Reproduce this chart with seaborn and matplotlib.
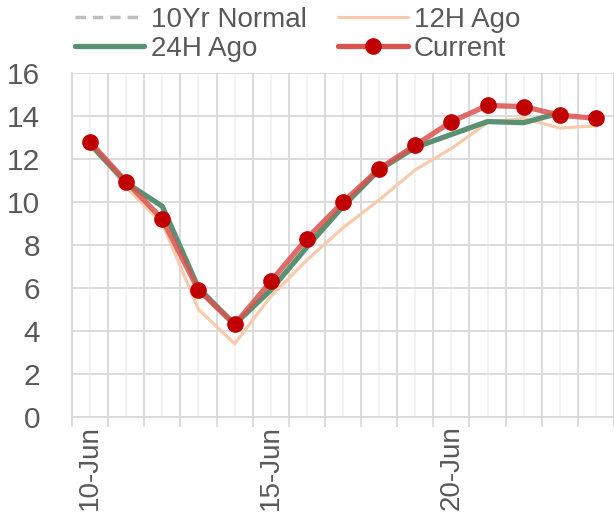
import numpy as np
import pandas as pd
import seaborn as sns
import matplotlib.pyplot as plt
import matplotlib.dates as mdates
from matplotlib.lines import Line2D

# %% data
dates = pd.date_range('2023-06-10', '2023-06-24', freq='D')
normal_10yr = [np.nan] * 15
ago_12h = [12.8, 10.7, 9.0, 5.0, 3.4, 5.6, 7.3, 8.8, 10.1, 11.5, 12.5, 13.7, 13.9, 13.45, 13.55]
ago_24h = [12.7, 10.9, 9.8, 6.0, 4.3, 5.9, 7.9, 9.8, 11.5, 12.55, 13.15, 13.75, 13.7, 14.15, np.nan]
current = [12.8, 10.95, 9.2, 5.9, 4.3, 6.3, 8.3, 10.0, 11.55, 12.65, 13.75, 14.5, 14.45, 14.05, 13.9]

df = pd.DataFrame({'date': dates, '10Yr': normal_10yr, '12H': ago_12h,
                   '24H': ago_24h, 'Current': current})

# %% style
sns.set_style('white')
plt.rcParams['font.family'] = ['Liberation Sans', 'DejaVu Sans']
txt = '#595959'

fig = plt.figure(figsize=(6.14, 5.17), dpi=100)
ax = fig.add_axes([72 / 614, 1 - 416.7 / 517, (614 - 72) / 614, (416.7 - 73.3) / 517])

c_grey = '#bfbfbf'
c_orange = '#f8cbad'
c_green = '#5b9173'
c_red = '#d9534f'
c_mark = '#c00000'

sns.lineplot(data=df, x='date', y='10Yr', ax=ax, color=c_grey, lw=2.5, dashes=(3, 2), legend=False)
sns.lineplot(data=df, x='date', y='12H', ax=ax, color=c_orange, lw=2.3, legend=False)
sns.lineplot(data=df, x='date', y='24H', ax=ax, color=c_green, lw=3.8, legend=False)
sns.lineplot(data=df, x='date', y='Current', ax=ax, color=c_red, lw=3.8, alpha=0.85, legend=False)
ax.plot(df['date'], df['Current'], ls='none', marker='o', ms=11, color=c_mark, zorder=5)

# %% axes
x0 = mdates.date2num(dates[0])
ax.set_xlim(x0 - 0.495, x0 + 14.41)
ax.set_ylim(0, 16)
ax.set_yticks(range(0, 17, 2))

major = x0 - 0.5 + np.arange(0, 16)
minor = x0 + np.arange(0, 15)
ax.set_xticks(major)
ax.set_xticklabels([])
ax.set_xticks(minor, minor=True)
labels = [d.strftime('%-d-%b') if i % 5 == 0 else '' for i, d in enumerate(dates)]
ax.set_xticklabels(labels, minor=True, rotation=90)

ax.grid(True, which='major', axis='both', color='#d9d9d9', lw=1.3)
ax.grid(True, which='minor', axis='x', color='#f2f2f2', lw=1.3)
ax.set_axisbelow(True)

ax.tick_params(axis='x', which='major', length=7, width=1.3, color='#d9d9d9', bottom=True)
ax.tick_params(axis='x', which='minor', length=0, labelsize=20, labelcolor=txt, pad=6)
ax.tick_params(axis='y', length=0, labelsize=21.5, labelcolor=txt, pad=23)

for s in ['top', 'right']:
    ax.spines[s].set_visible(False)
for s in ['left', 'bottom']:
    ax.spines[s].set_color('#d9d9d9')
    ax.spines[s].set_linewidth(1.3)

ax.set_xlabel('')
ax.set_ylabel('')

# %% legend
handles = [
    Line2D([], [], color=c_grey, lw=2.5, dashes=(3, 2)),
    Line2D([], [], color=c_green, lw=3.8),
    Line2D([], [], color=c_orange, lw=2.3),
    Line2D([], [], color=c_red, lw=3.8, marker='o', ms=11, mfc=c_mark, mec=c_mark),
]
names = ['10Yr Normal', '24H Ago', '12H Ago', 'Current']
fig.legend(handles, names, ncol=2, loc='upper left', bbox_to_anchor=(0.104, 1.008),
           frameon=False, fontsize=20, labelcolor=txt, handlelength=2.5,
           handletextpad=0.22, columnspacing=1.15, labelspacing=0.1, borderaxespad=0)

fig.savefig('out.png', dpi=100)
